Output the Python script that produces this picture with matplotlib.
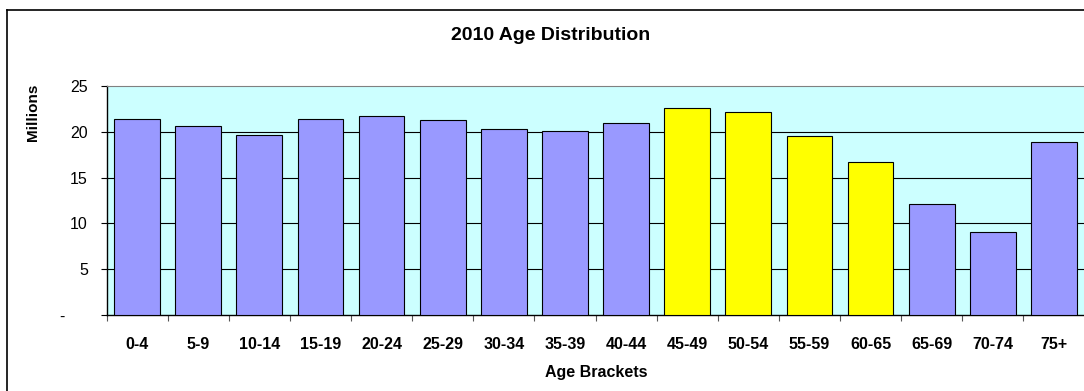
import matplotlib.pyplot as plt
from matplotlib.lines import Line2D
import numpy as np

plt.rcParams['font.family'] = ['Liberation Sans', 'DejaVu Sans']

# data (millions)
ages = ["0-4", "5-9", "10-14", "15-19", "20-24", "25-29", "30-34", "35-39",
        "40-44", "45-49", "50-54", "55-59", "60-65", "65-69", "70-74", "75+"]
population = [21.4, 20.6, 19.7, 21.4, 21.7, 21.3, 20.3, 20.1,
              21.0, 22.6, 22.2, 19.5, 16.7, 12.1, 9.1, 18.9]
boomers = ["45-49", "50-54", "55-59", "60-65"]
y_ticks = [0, 5, 10, 15, 20, 25]
y_labels = ["-     ", "5", "10", "15", "20", "25"]

W, H = 1084, 391
fig = plt.figure(figsize=(W / 100, H / 100), dpi=100)
fig.patch.set_facecolor('white')

# outer chart frame (right/bottom edges fall outside the picture)
fig.add_artist(Line2D([7 / W, 1.0], [1 - 10 / H, 1 - 10 / H], color='black', lw=1.2))
fig.add_artist(Line2D([7 / W, 7 / W], [0, 1 - 10 / H], color='black', lw=1.2))

ax = fig.add_axes([106.5 / W, 1 - 315 / H, (1084.5 - 106.5) / W, (315 - 86) / H])
ax.set_facecolor('#CCFFFF')

x = np.arange(len(ages))
colors = ['#FFFF00' if a in boomers else '#9999FF' for a in ages]
ax.bar(x, population, width=0.75, color=colors, edgecolor='black', linewidth=0.8, zorder=3)

ax.set_xlim(-0.5, len(ages) - 0.5)
ax.set_ylim(0, 25)
ax.set_yticks(y_ticks)
ax.set_yticklabels(y_labels, fontsize=11.5)
for v in y_ticks[1:-1]:
    ax.axhline(v, color='black', lw=0.8, zorder=1)

ax.set_xticks(x)
ax.set_xticklabels(ages, fontsize=11.5, fontweight='bold')
ax.set_xticks(np.arange(-0.5, len(ages) - 0.5, 1.0), minor=True)
ax.tick_params(axis='x', which='major', length=0, pad=16)
ax.tick_params(axis='x', which='minor', length=4, color='#555555', width=0.8)
ax.tick_params(axis='y', length=4.5, width=0.8, pad=9)

for side in ['left', 'bottom']:
    ax.spines[side].set_color('black')
    ax.spines[side].set_linewidth(1.0)
ax.spines['top'].set_color('#808080')
ax.spines['right'].set_visible(False)

fig.text(551 / W, 1 - 36 / H, "2010 Age Distribution", ha='center', va='center',
         fontsize=14, fontweight='bold')
fig.text(596 / W, 1 - 372 / H, "Age Brackets", ha='center', va='center',
         fontsize=11.5, fontweight='bold')
fig.text(33 / W, 1 - 112 / H, "Millions", ha='center', va='center', rotation=90,
         fontsize=11, fontweight='bold')

fig.savefig("out.png", dpi=100)
